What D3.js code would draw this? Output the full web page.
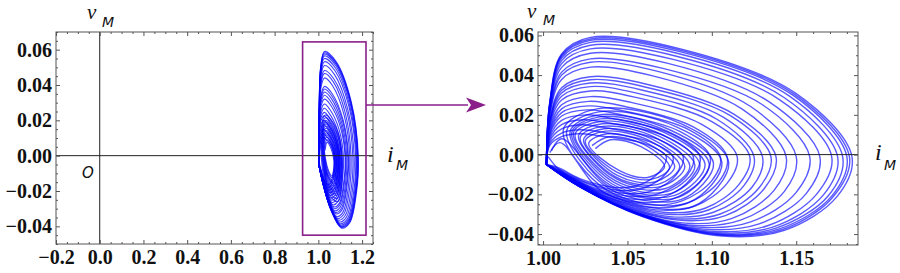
<!DOCTYPE html>
<html>
<head>
<meta charset="utf-8">
<script src="https://cdn.jsdelivr.net/npm/d3@7"></script>
<style>
  body { margin: 0; background: #fff; }
  svg { display: block; }
</style>
</head>
<body>
<div id="chart"></div>
<script>
// outer loops of the (i_M, v_M) trajectory:
// each one rises along the i=1 wall, arcs right, and comes back along the lower band
var outerLoops = [
  [[1.002,-0.005],[1.004,0.0248],[1.011,0.0473],[1.028,0.055],[1.079,0.0495],[1.143,0.0286],[1.1745,-0.001],[1.166,-0.0204],[1.136,-0.0365],[1.101,-0.0392],[1.056,-0.0298],[1.021,-0.0157]],
  [[1.002,-0.005],[1.004,0.017],[1.011,0.0324],[1.028,0.0377],[1.061,0.0339],[1.111,0.0196],[1.135,-0.001],[1.128,-0.0167],[1.105,-0.0299],[1.078,-0.0322],[1.043,-0.0245],[1.016,-0.0129]],
  [[1.002,-0.005],[1.004,0.0266],[1.011,0.0507],[1.028,0.059],[1.082,0.0531],[1.150,0.0307],[1.183,-0.001],[1.174,-0.0213],[1.143,-0.0381],[1.106,-0.041],[1.059,-0.0312],[1.022,-0.0164]],
  [[1.002,-0.005],[1.004,0.009],[1.011,0.0172],[1.025,0.02],[1.042,0.018],[1.076,0.0104],[1.093,-0.001],[1.088,-0.0117],[1.073,-0.0209],[1.054,-0.0225],[1.030,-0.0171],[1.011,-0.009]],
  [[1.002,-0.005],[1.004,0.0217],[1.011,0.0415],[1.028,0.0482],[1.071,0.0434],[1.130,0.0251],[1.158,-0.001],[1.150,-0.019],[1.123,-0.0339],[1.092,-0.0365],[1.051,-0.0277],[1.019,-0.0146]],
  [[1.002,-0.005],[1.004,0.0144],[1.011,0.0275],[1.028,0.032],[1.055,0.0288],[1.100,0.0166],[1.1225,-0.001],[1.116,-0.0151],[1.096,-0.027],[1.071,-0.029],[1.039,-0.022],[1.015,-0.0116]],
  [[1.002,-0.005],[1.004,0.0259],[1.011,0.0495],[1.028,0.0575],[1.081,0.0518],[1.148,0.0299],[1.180,-0.001],[1.171,-0.0209],[1.140,-0.0374],[1.104,-0.0402],[1.058,-0.0306],[1.022,-0.0161]],
  [[1.002,-0.005],[1.004,0.0056],[1.011,0.0108],[1.022,0.0125],[1.035,0.0113],[1.063,0.0065],[1.077,-0.001],[1.073,-0.0094],[1.060,-0.0167],[1.045,-0.018],[1.025,-0.0137],[1.009,-0.0072]],
  [[1.002,-0.005],[1.004,0.0198],[1.011,0.0378],[1.028,0.044],[1.065,0.0396],[1.118,0.0229],[1.144,-0.001],[1.137,-0.0179],[1.112,-0.0321],[1.084,-0.0345],[1.046,-0.0262],[1.017,-0.0138]],
  [[1.002,-0.005],[1.004,0.011],[1.011,0.0211],[1.027,0.0245],[1.047,0.0221],[1.086,0.0127],[1.105,-0.001],[1.100,-0.0131],[1.082,-0.0234],[1.061,-0.0252],[1.034,-0.0192],[1.013,-0.0101]],
  [[1.002,-0.005],[1.004,0.0239],[1.011,0.0458],[1.028,0.0532],[1.077,0.0479],[1.140,0.0277],[1.171,-0.001],[1.162,-0.02],[1.133,-0.0358],[1.099,-0.0385],[1.055,-0.0293],[1.021,-0.0154]],
  [[1.002,-0.005],[1.004,0.0154],[1.011,0.0294],[1.028,0.0342],[1.056,0.0308],[1.103,0.0178],[1.125,-0.001],[1.119,-0.0156],[1.098,-0.0279],[1.073,-0.03],[1.040,-0.0228],[1.015,-0.012]],
  [[1.002,-0.005],[1.004,0.0262],[1.011,0.0501],[1.028,0.0582],[1.082,0.0524],[1.149,0.0303],[1.1815,-0.001],[1.172,-0.0211],[1.142,-0.0377],[1.105,-0.0405],[1.058,-0.0308],[1.022,-0.0162]],
  [[1.002,-0.005],[1.004,0.0079],[1.011,0.0151],[1.024,0.0175],[1.040,0.0158],[1.073,0.0091],[1.089,-0.001],[1.085,-0.0109],[1.069,-0.0195],[1.052,-0.021],[1.028,-0.016],[1.011,-0.0084]],
  [[1.002,-0.005],[1.004,0.0209],[1.011,0.04],[1.028,0.0465],[1.068,0.0419],[1.123,0.0242],[1.150,-0.001],[1.143,-0.0185],[1.117,-0.033],[1.087,-0.0355],[1.048,-0.027],[1.018,-0.0142]],
  [[1.002,-0.005],[1.004,0.0121],[1.011,0.023],[1.027,0.0268],[1.049,0.0241],[1.089,0.0139],[1.109,-0.001],[1.104,-0.0138],[1.085,-0.0246],[1.063,-0.0265],[1.035,-0.0201],[1.013,-0.0106]],
  [[1.002,-0.005],[1.004,0.0254],[1.011,0.0486],[1.028,0.0565],[1.080,0.0509],[1.146,0.0294],[1.1775,-0.001],[1.169,-0.0207],[1.138,-0.037],[1.103,-0.0398],[1.057,-0.0302],[1.021,-0.0159]],
  [[1.002,-0.005],[1.004,0.0047],[1.011,0.009],[1.021,0.0105],[1.033,0.0095],[1.060,0.0055],[1.073,-0.001],[1.069,-0.0086],[1.057,-0.0153],[1.042,-0.0165],[1.023,-0.0125],[1.009,-0.0066]],
  [[1.002,-0.005],[1.004,0.0176],[1.011,0.0337],[1.028,0.0392],[1.062,0.0353],[1.113,0.0204],[1.138,-0.001],[1.131,-0.0172],[1.108,-0.0307],[1.080,-0.033],[1.044,-0.0251],[1.017,-0.0132]],
  [[1.002,-0.005],[1.004,0.0101],[1.011,0.0194],[1.026,0.0225],[1.045,0.0203],[1.081,0.0117],[1.099,-0.001],[1.094,-0.0125],[1.077,-0.0223],[1.057,-0.024],[1.032,-0.0182],[1.012,-0.0096]],
  [[1.002,-0.005],[1.004,0.023],[1.011,0.0439],[1.028,0.051],[1.074,0.0459],[1.134,0.0265],[1.164,-0.001],[1.156,-0.0195],[1.128,-0.0349],[1.095,-0.0375],[1.052,-0.0285],[1.020,-0.015]],
  [[1.002,-0.005],[1.004,0.0162],[1.011,0.031],[1.028,0.036],[1.059,0.0324],[1.107,0.0187],[1.130,-0.001],[1.124,-0.0162],[1.101,-0.029],[1.075,-0.0312],[1.042,-0.0237],[1.016,-0.0125]],
  [[1.002,-0.005],[1.004,0.0131],[1.011,0.0251],[1.028,0.0292],[1.052,0.0263],[1.094,0.0152],[1.115,-0.001],[1.109,-0.0145],[1.090,-0.0259],[1.067,-0.0278],[1.037,-0.0211],[1.014,-0.0111]],
  [[1.002,-0.005],[1.004,0.0068],[1.011,0.0129],[1.023,0.015],[1.037,0.0135],[1.068,0.0078],[1.083,-0.001],[1.079,-0.0101],[1.065,-0.0181],[1.048,-0.0195],[1.027,-0.0148],[1.010,-0.0078]]
];
var loopEnd = [1.003, -0.001];

// inner spiral around the focus near (1.05, -0.004)
var spiralA = [
  [1.031,0.003],[1.040,0.0075],[1.058,0.004],[1.072,-0.006],[1.062,-0.0115],[1.045,-0.008],
  [1.027,0.0055],[1.038,0.0105],[1.061,0.006],[1.078,-0.006],[1.066,-0.0138],[1.044,-0.0105],
  [1.024,0.0075],[1.036,0.013],[1.064,0.008],[1.084,-0.006],[1.070,-0.016],[1.043,-0.012],
  [1.021,0.0095],[1.035,0.0155],[1.068,0.0095],[1.090,-0.0055],[1.074,-0.0185],[1.042,-0.014],
  [1.018,0.011],[1.034,0.018],[1.072,0.011],[1.096,-0.005],[1.078,-0.0205],[1.040,-0.0155],
  [1.016,0.0115],[1.033,0.020],[1.075,0.0125],[1.101,-0.0045],[1.082,-0.0225],[1.039,-0.017],
  [1.014,0.012],[1.033,0.0215],[1.079,0.014],[1.106,-0.004],[1.086,-0.0242],[1.038,-0.018],
  [1.012,0.0125],[1.032,0.023],[1.082,0.0155],[1.110,-0.004],[1.089,-0.026],[1.036,-0.019],
  [1.010,0.006],[1.004,0.001]
];
var spiralB = [
  [1.029,0.0045],[1.039,0.009],[1.060,0.005],[1.075,-0.0065],[1.064,-0.0125],[1.044,-0.009],
  [1.025,0.0068],[1.037,0.0118],[1.063,0.007],[1.081,-0.006],[1.068,-0.015],[1.043,-0.0112],
  [1.022,0.0085],[1.0355,0.0142],[1.066,0.0088],[1.087,-0.0058],[1.072,-0.0172],[1.0425,-0.013],
  [1.019,0.0102],[1.0345,0.0168],[1.070,0.0102],[1.093,-0.0052],[1.076,-0.0195],[1.041,-0.0148],
  [1.017,0.0112],[1.0335,0.019],[1.0735,0.0118],[1.0985,-0.0048],[1.080,-0.0215],[1.0395,-0.0162],
  [1.011,0.008],[1.005,0.002]
];

// ticks
var leftXTicks = [-0.2, 0, 0.2, 0.4, 0.6, 0.8, 1.0, 1.2];
var leftYTicks = [-0.04, -0.02, 0, 0.02, 0.04, 0.06];
var rightXTicks = [1.00, 1.05, 1.10, 1.15];
var rightYTicks = [-0.04, -0.02, 0, 0.02, 0.04, 0.06];

// plot ranges
var leftXDomain = [-0.2, 1.25], leftYDomain = [-0.05, 0.07];
var rightXDomain = [0.997, 1.1866], rightYDomain = [-0.0455, 0.0617];
var zoomI = [0.928, 1.218], zoomV = [-0.045, 0.0644];

var purple = "#8a1f8a";
var serif = "'Liberation Serif', 'DejaVu Serif', serif";
var width = 900, height = 273;

var svg = d3.select("#chart").append("svg")
    .attr("width", width)
    .attr("height", height);

// split into separate paths so overlaps build up like the original
var segments = outerLoops.map(function (lp, k) {
  var next = k < outerLoops.length - 1 ? outerLoops[k + 1][0] : loopEnd;
  return lp.concat([next]);
});
segments.push(spiralA, spiralB);

function minorTicks(lo, hi, step, majors) {
  return d3.range(Math.round(lo / step), Math.round(hi / step) + 1)
    .map(function (k) { return +(k * step).toFixed(4); })
    .filter(function (v) { return majors.every(function (m) { return Math.abs(m - v) > 1e-6; }); });
}

function drawPanel(opt) {
  var box = opt.box;
  var x = d3.scaleLinear().domain(opt.xDomain).range([box.left, box.right]);
  var y = d3.scaleLinear().domain(opt.yDomain).range([box.bottom, box.top]);

  svg.append("clipPath").attr("id", opt.id)
    .append("rect")
    .attr("x", box.left).attr("y", box.top)
    .attr("width", box.right - box.left).attr("height", box.bottom - box.top);

  var plot = svg.append("g").attr("clip-path", "url(#" + opt.id + ")");

  var line = d3.line()
    .x(function (d) { return x(d[0]); })
    .y(function (d) { return y(d[1]); })
    .curve(d3.curveCatmullRom.alpha(0.5));

  plot.selectAll(".traj")
    .data(segments)
    .enter().append("path")
    .attr("class", "traj")
    .attr("d", line)
    .attr("fill", "none")
    .attr("stroke", "#0000ff")
    .attr("stroke-opacity", opt.lineOpacity)
    .attr("stroke-width", opt.lineWidth);

  // axes through the origin
  plot.append("line")
    .attr("x1", box.left).attr("x2", box.right)
    .attr("y1", y(0)).attr("y2", y(0))
    .attr("stroke", "#222").attr("stroke-width", 1);
  if (opt.xDomain[0] < 0) {
    plot.append("line")
      .attr("x1", x(0)).attr("x2", x(0))
      .attr("y1", box.top).attr("y2", box.bottom)
      .attr("stroke", "#222").attr("stroke-width", 1);
  }

  // frame
  svg.append("rect")
    .attr("x", box.left).attr("y", box.top)
    .attr("width", box.right - box.left).attr("height", box.bottom - box.top)
    .attr("fill", "none").attr("stroke", "#555").attr("stroke-width", 1);

  var xMinor = minorTicks(opt.xDomain[0], opt.xDomain[1], opt.xMinorStep, opt.xTicks)
    .filter(function (v) { return v >= opt.xDomain[0] && v <= opt.xDomain[1]; });
  var yMinor = minorTicks(opt.yDomain[0], opt.yDomain[1], opt.yMinorStep, opt.yTicks)
    .filter(function (v) { return v >= opt.yDomain[0] && v <= opt.yDomain[1]; });

  var sides = [
    { gen: d3.axisBottom, s: x, t: "translate(0," + box.bottom + ")", major: opt.xTicks, minor: xMinor, fmt: opt.xFormat, pad: 6 },
    { gen: d3.axisTop, s: x, t: "translate(0," + box.top + ")", major: opt.xTicks, minor: xMinor, fmt: null },
    { gen: d3.axisLeft, s: y, t: "translate(" + box.left + ",0)", major: opt.yTicks, minor: yMinor, fmt: opt.yFormat, pad: 4 },
    { gen: d3.axisRight, s: y, t: "translate(" + box.right + ",0)", major: opt.yTicks, minor: yMinor, fmt: null }
  ];

  sides.forEach(function (sd) {
    var gMaj = svg.append("g")
      .attr("transform", sd.t)
      .call(sd.gen(sd.s).tickValues(sd.major).tickSize(-4)
        .tickPadding(sd.pad || 0)
        .tickFormat(sd.fmt ? d3.format(sd.fmt) : ""));
    var gMin = svg.append("g")
      .attr("transform", sd.t)
      .call(sd.gen(sd.s).tickValues(sd.minor).tickSize(-2).tickFormat(""));
    [gMaj, gMin].forEach(function (g) {
      g.select(".domain").remove();
      g.attr("color", "#555")
        .attr("font-family", serif)
        .attr("font-size", 20)
        .attr("font-weight", "bold");
      g.selectAll("text").attr("fill", "#111");
    });
  });

  return { x: x, y: y };
}

var left = drawPanel({
  id: "clipL",
  box: { left: 56, right: 373, top: 32, bottom: 244 },
  xDomain: leftXDomain, yDomain: leftYDomain,
  xTicks: leftXTicks, yTicks: leftYTicks,
  xMinorStep: 0.05, yMinorStep: 0.005,
  xFormat: ".1f", yFormat: ".2f",
  lineWidth: 1.1, lineOpacity: 0.75
});

var right = drawPanel({
  id: "clipR",
  box: { left: 538, right: 858, top: 32, bottom: 245 },
  xDomain: rightXDomain, yDomain: rightYDomain,
  xTicks: rightXTicks, yTicks: rightYTicks,
  xMinorStep: 0.01, yMinorStep: 0.005,
  xFormat: ".2f", yFormat: ".2f",
  lineWidth: 1.4, lineOpacity: 0.65
});

// zoom box and arrow
svg.append("rect")
  .attr("x", left.x(zoomI[0])).attr("y", left.y(zoomV[1]))
  .attr("width", left.x(zoomI[1]) - left.x(zoomI[0]))
  .attr("height", left.y(zoomV[0]) - left.y(zoomV[1]))
  .attr("fill", "none").attr("stroke", purple).attr("stroke-width", 1.6);

var arrowY = left.y(0.0287), arrowX0 = left.x(zoomI[1]), arrowTip = 486;
svg.append("line")
  .attr("x1", arrowX0).attr("x2", arrowTip - 18)
  .attr("y1", arrowY).attr("y2", arrowY)
  .attr("stroke", purple).attr("stroke-width", 1.6);
svg.append("path")
  .attr("d", "M" + arrowTip + "," + arrowY + "L" + (arrowTip - 20) + "," + (arrowY - 7.5) +
             "L" + (arrowTip - 15) + "," + arrowY + "L" + (arrowTip - 20) + "," + (arrowY + 7.5) + "Z")
  .attr("fill", purple);

// axis names
function axisName(xv, yv, main, size, xs, ys) {
  var t = svg.append("text").attr("x", xv).attr("y", yv).attr("fill", "#111");
  t.append("tspan")
    .attr("font-family", serif)
    .attr("font-style", "italic").attr("font-size", size)
    .text(main);
  t.append("tspan")
    .attr("x", xs).attr("y", ys)
    .attr("font-family", "'DejaVu Sans', sans-serif")
    .attr("font-style", "italic").attr("font-size", 14)
    .text("M");
}
axisName(87, 19, "v", 21, 102, 27);
axisName(527, 18, "v", 21, 543, 25);
axisName(387, 162, "i", 24, 396, 170);
axisName(875, 160, "i", 24, 884, 170);

svg.append("text")
  .attr("x", 82).attr("y", 178)
  .attr("fill", "#111")
  .attr("font-family", "'DejaVu Sans', sans-serif")
  .attr("font-style", "italic").attr("font-size", 15)
  .text("O");
</script>
</body>
</html>
